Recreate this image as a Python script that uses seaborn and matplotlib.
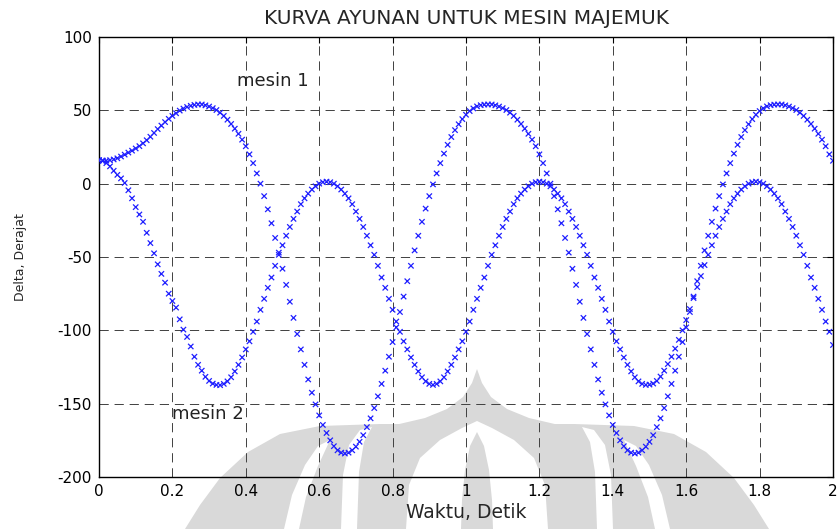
import numpy as np
import pandas as pd
import matplotlib
matplotlib.use("Agg")
import matplotlib.pyplot as plt
from matplotlib.patches import Polygon
import seaborn as sns

# simulation time steps (0.01 s)
waktu = np.linspace(0, 2, 201)

# swing angle of machine 1 (derajat)
mesin1 = [
    16, 15.8, 15.7, 16, 16.5, 17.3, 18.5, 19.8, 21.2, 22.5, 24, 25.6, 27.5, 29.6,
    32, 34.6, 37.2, 39.6, 42, 44.2, 46.2, 48, 49.8, 51.2, 52.3, 53.1, 53.7, 54,
    54, 53.4, 52.6, 51.5, 50.2, 48.4, 46.2, 43.6, 40.7, 37.5, 34, 30, 25.5, 20,
    14, 7, 0, -8.5, -17.5, -27, -37, -47, -58, -69, -80.5, -91.5, -102.5, -113,
    -123.5, -133.5, -142.5, -150.5, -158, -164.5, -170, -175, -179, -181.8, -183.4, -184,
    -183.4, -181.8, -179.3, -176, -171.5, -166, -160, -153, -145, -136.5, -127.5, -118,
    -108, -98, -87.5, -77, -66.5, -56, -45.5, -35.5, -26, -17, -8.5, -0.5, 7, 14,
    20.5, 26.5, 31.8, 36.5, 40.5, 44, 47, 49.5, 51.3, 52.7, 53.5, 53.9, 54,
    54, 53.4, 52.6, 51.5, 50.2, 48.4, 46.2, 43.6, 40.7, 37.5, 34, 30, 25.5, 20,
    14, 7, 0, -8.5, -17.5, -27, -37, -47, -58, -69, -80.5, -91.5, -102.5, -113,
    -123.5, -133.5, -142.5, -150.5, -158, -164.5, -170, -175, -179, -181.8, -183.4, -184,
    -183.4, -181.8, -179.3, -176, -171.5, -166, -160, -153, -145, -136.5, -127.5, -118,
    -108, -98, -87.5, -77, -66.5, -56, -45.5, -35.5, -26, -17, -8.5, -0.5, 7, 14,
    20.5, 26.5, 31.8, 36.5, 40.5, 44, 47, 49.5, 51.3, 52.7, 53.5, 53.9, 54,
    54, 53.4, 52.6, 51.5, 50.2, 48.4, 46.2, 43.6, 40.7, 37.5, 34, 30, 25.5, 20, 15.6,
]

# swing angle of machine 2 (derajat)
mesin2 = [
    16, 15.5, 14, 11.8, 8.8, 6, 3.6, 0.5, -4.5, -10, -16, -21, -26, -33.5, -40.5,
    -47.5, -55, -61.5, -67.5, -75, -80, -84.5, -92.5, -99.5, -104.5, -111, -118,
    -123.5, -127.5, -131.7, -134.5, -136.3, -137.2, -137.4,
    -136.5, -134.8, -132, -128, -123.5, -118.5, -113, -107.5, -101, -94, -86, -78.5,
    -71, -64, -56, -48.5, -42, -35.5, -29.5, -24, -19, -14, -10, -6.8, -4, -1.8, 0, 1.0, 1.4,
    1.0, 0, -1.8, -4, -6.8, -10, -14, -19, -24, -29.5, -35.5, -42, -48.5, -56, -64,
    -71, -78.5, -86, -94, -101, -107.5, -113, -118.5, -123.5, -128, -132, -134.8, -136.5, -137.2,
    -136.5, -134.8, -132, -128, -123.5, -118.5, -113, -107.5, -101, -94, -86, -78.5,
    -71, -64, -56, -48.5, -42, -35.5, -29.5, -24, -19, -14, -10, -6.8, -4, -1.8, 0, 1.0, 1.4,
    1.0, 0, -1.8, -4, -6.8, -10, -14, -19, -24, -29.5, -35.5, -42, -48.5, -56, -64,
    -71, -78.5, -86, -94, -101, -107.5, -113, -118.5, -123.5, -128, -132, -134.8, -136.5, -137.2,
    -137, -136.3, -134.5, -131.5, -127.5, -123, -118, -112.5, -106.5, -100, -93, -85.5,
    -78, -70.5, -63, -55.5, -48.5, -42, -35.5, -29.5, -24, -19, -14, -10, -6.8, -4, -1.8, 0, 1.0, 1.4,
    1.0, 0, -1.8, -4, -6.8, -10, -14, -19, -24, -29.5, -35.5, -42, -48.5, -56, -64,
    -71, -78.5, -86, -94, -101, -110,
]

x_ticks = [0, 0.2, 0.4, 0.6, 0.8, 1, 1.2, 1.4, 1.6, 1.8, 2]
x_labels = ["0", "0.2", "0.4", "0.6", "0.8", "1", "1.2", "1.4", "1.6", "1.8", "2"]
y_ticks = [-200, -150, -100, -50, 0, 50, 100]

df = pd.DataFrame({
    "waktu": np.concatenate([waktu, waktu]),
    "delta": mesin1 + mesin2,
    "mesin": ["mesin 1"] * len(mesin1) + ["mesin 2"] * len(mesin2),
})

sns.set_style("white")
plt.rcParams["font.family"] = ["DejaVu Sans"]
plt.rcParams["axes.unicode_minus"] = False

W, H = 839, 529
fig = plt.figure(figsize=(W / 100, H / 100), dpi=100)


# faint watermark logo behind the plot (pixel outline, y from top)
def logo(pts, color, mirror=False):
    if mirror:
        pts = [(954 - x, y) for x, y in pts]
    xy = [(x / W, 1 - y / H) for x, y in pts]
    fig.add_artist(Polygon(xy, closed=True, transform=fig.transFigure,
                           facecolor=color, edgecolor="none", zorder=-5))


grey = "#d9d9d9"
# outer wings
logo([(185, 529), (200, 505), (220, 478), (248, 452), (280, 434), (320, 426),
      (380, 424), (574, 424), (634, 426), (674, 434), (706, 452), (734, 478),
      (754, 505), (769, 529)], grey)
# onion tip of the dome
logo([(477, 369), (472, 383), (463, 397), (447, 409), (425, 418), (395, 425),
      (559, 425), (529, 418), (507, 409), (491, 397), (482, 383)], grey)
# white crescents between wings and dome
for m in (False, True):
    logo([(341, 529), (343, 475), (349, 445), (360, 430), (372, 427), (364, 442),
          (359, 472), (357, 529)], "white", m)
    logo([(284, 529), (292, 495), (305, 465), (318, 446), (330, 440), (318, 466),
          (306, 497), (299, 529)], "white", m)
# inner white onion and central petal
logo([(477, 421), (462, 428), (440, 440), (420, 458), (409, 485), (406, 529),
      (548, 529), (545, 485), (534, 458), (514, 440), (492, 428)], "white")
logo([(477, 432), (470, 446), (465, 470), (462, 500), (461, 529), (493, 529),
      (492, 500), (489, 470), (484, 446)], grey)

ax = fig.add_axes([99 / W, 1 - 477 / H, 734 / W, 440 / H])
ax.patch.set_alpha(0)

sns.scatterplot(data=df, x="waktu", y="delta", hue="mesin",
                palette=["#2020ff", "#2020ff"], marker="x", s=15,
                linewidth=0.9, legend=False, ax=ax, zorder=3)

ax.set_xlim(0, 2)
ax.set_ylim(-200, 100)
ax.set_xticks(x_ticks)
ax.set_xticklabels(x_labels)
ax.set_yticks(y_ticks)
ax.grid(True, color="#404040", linestyle=(0, (9.5, 6)), linewidth=0.7)
ax.tick_params(direction="in", length=4, top=True, right=True, labelsize=11,
               colors="black", pad=5)
for sp in ax.spines.values():
    sp.set_color("black")
    sp.set_linewidth(1.0)

ax.set_title("KURVA AYUNAN UNTUK MESIN MAJEMUK", fontsize=14.5, pad=9)
ax.set_xlabel("Waktu, Detik", fontsize=13.5, labelpad=3)
ax.set_ylabel("Delta, Derajat", fontsize=9, labelpad=22)

ax.text(0.375, 70, "mesin 1", fontsize=13, va="center", ha="left", color="#222222")
ax.text(0.2, -157, "mesin 2", fontsize=13, va="center", ha="left", color="#222222")

fig.savefig("out.png", dpi=100)
